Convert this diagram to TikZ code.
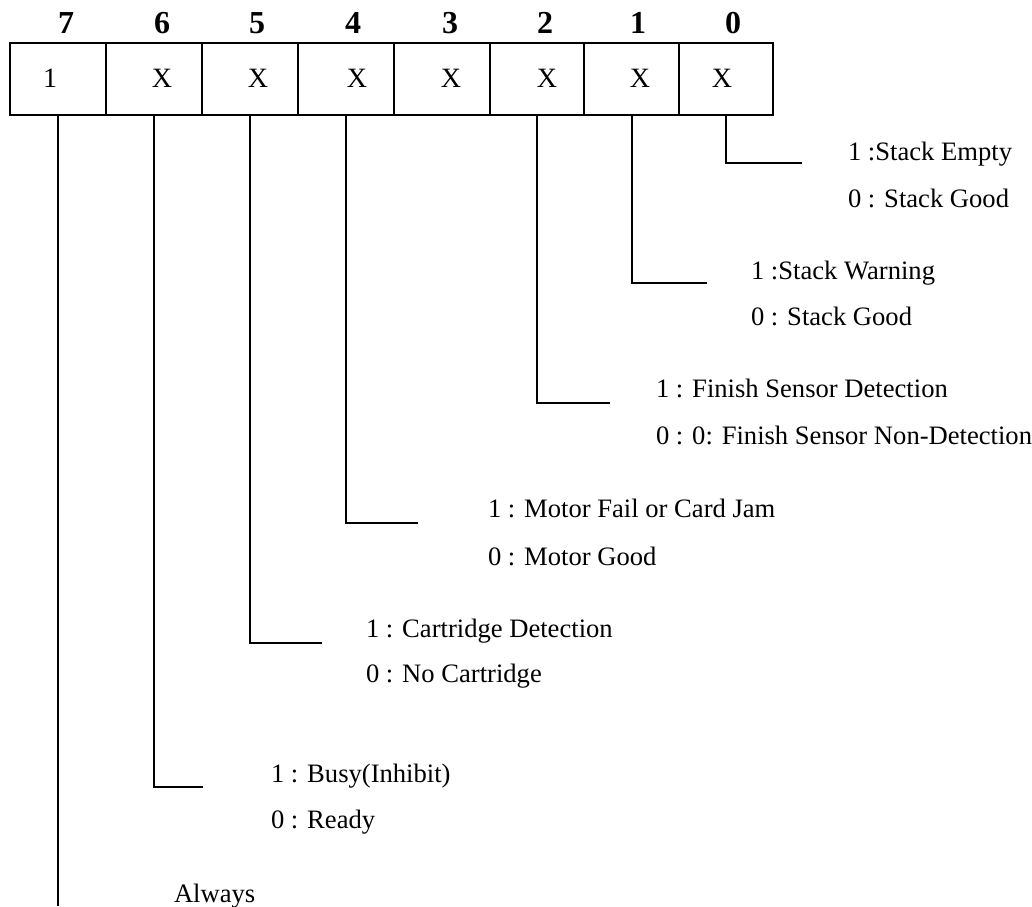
\documentclass[tikz,border=0pt]{standalone}
\usepackage{fontspec}
\setmainfont{Liberation Serif}

\begin{document}
\begin{tikzpicture}[x=0.5pt, y=-0.5pt, line width=1pt,
    cellbox/.style={draw, rectangle, minimum height=36pt, inner sep=0pt},
    bitnum/.style={anchor=base, inner sep=0pt, font=\fontsize{16}{18}\selectfont\bfseries},
    bitval/.style={anchor=base, inner sep=0pt, font=\fontsize{14}{16}\selectfont},
    desc/.style={anchor=base west, inner sep=0pt, font=\fontsize{13.3}{16}\selectfont}]
    \useasboundingbox (0,0) rectangle (1032,906);

    % Define cells
    \node[cellbox, minimum width=48pt] (cell7) at (58,79) {};
    \node[cellbox, minimum width=48pt] (cell6) at (154,79) {};
    \node[cellbox, minimum width=48pt] (cell5) at (250,79) {};
    \node[cellbox, minimum width=48pt] (cell4) at (346,79) {};
    \node[cellbox, minimum width=48pt] (cell3) at (442,79) {};
    \node[cellbox, minimum width=47pt] (cell2) at (537,79) {};
    \node[cellbox, minimum width=47.5pt] (cell1) at (631.5,79) {};
    \node[cellbox, minimum width=47pt] (cell0) at (726,79) {};

    % Bit numbers and values
    \foreach \b/\nx/\vx/\v in {7/66/50/1, 6/162/162/X, 5/257/258/X, 4/353/357/X,
                               3/450/451/X, 2/545/547/X, 1/638/640/X, 0/733/722/X} {
        \node[bitnum] (num\b) at (\nx,33) {\b};
        \node[bitval] (val\b) at (\vx,87) {\v};
    }

    % Define line ends
    \coordinate (tip0) at (802,163);
    \coordinate (tip1) at (707,283);
    \coordinate (tip2) at (610,403);
    \coordinate (tip4) at (418,523);
    \coordinate (tip5) at (322,643);
    \coordinate (tip6) at (203,787);
    \coordinate (end7) at (58,906);

    % Descriptions
    \node[desc] (on0) at (847,160) {1 :Stack Empty};
    \node[desc] (off0) at (847,207) {0 : Stack Good};
    \node[desc] (on1) at (750,279) {1 :Stack Warning};
    \node[desc] (off1) at (750,325) {0 : Stack Good};
    \node[desc] (on2) at (655,397) {1 : Finish Sensor Detection};
    \node[desc] (off2) at (655,444) {0 : 0: Finish Sensor Non-Detection};
    \node[desc] (on4) at (487,517) {1 : Motor Fail or Card Jam};
    \node[desc] (off4) at (487,565) {0 : Motor Good};
    \node[desc] (on5) at (365,637) {1 : Cartridge Detection};
    \node[desc] (off5) at (365,682) {0 : No Cartridge};
    \node[desc] (on6) at (270,782) {1 : Busy(Inhibit)};
    \node[desc] (off6) at (270,828) {0 : Ready};
    \node[desc] (always7) at (173,902) {Always};

    % Draw lines
    \draw (cell0.south) |- (tip0);
    \draw (cell1.south) |- (tip1);
    \draw (cell2.south) |- (tip2);
    \draw (cell4.south) |- (tip4);
    \draw (cell5.south) |- (tip5);
    \draw (cell6.south) |- (tip6);
    \draw (cell7.south) -- (end7);
\end{tikzpicture}
\end{document}
